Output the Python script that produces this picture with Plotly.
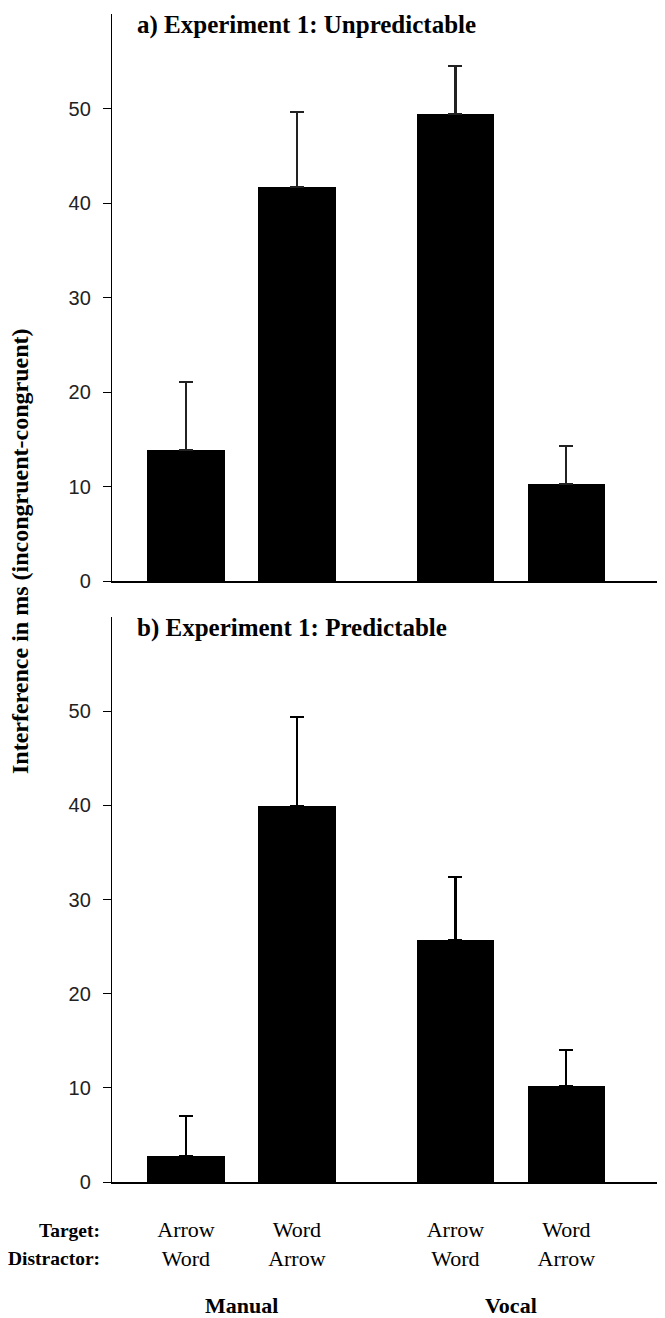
import plotly.graph_objects as go

# ---- data ----
targets = ["Arrow", "Word", "Arrow", "Word"]
distractors = ["Word", "Arrow", "Word", "Arrow"]
groups = ["Manual", "Manual", "Vocal", "Vocal"]
group_names = ["Manual", "Vocal"]

unpred_vals = [13.9, 41.7, 49.4, 10.3]
unpred_err = [7.2, 7.9, 5.1, 4.0]

pred_vals = [2.8, 39.9, 25.7, 10.2]
pred_err = [4.2, 9.5, 6.7, 3.8]

panel_titles = ["a) Experiment 1: Unpredictable", "b) Experiment 1: Predictable"]
y_label = "Interference in ms (incongruent-congruent)"
y_ticks = [0, 10, 20, 30, 40, 50]

# ---- layout helpers ----
GROUP_GAP = 0.43
xpos = [i + GROUP_GAP * group_names.index(g) for i, g in enumerate(groups)]
tick_text = [f"{t}<br>{d}" for t, d in zip(targets, distractors)]

SERIF = "Liberation Serif"
SANS = "Liberation Sans, Arial"

fig = go.Figure()

for vals, errs, ax, ecol in [(unpred_vals, unpred_err, "y", "#222"),
                             (pred_vals, pred_err, "y2", "#000")]:
    fig.add_trace(go.Bar(
        x=xpos, y=vals, yaxis=ax, xaxis="x" if ax == "y" else "x2",
        width=0.70,
        marker=dict(color="black", line=dict(width=0)),
        error_y=dict(type="data", array=errs, symmetric=False,
                     arrayminus=[0] * len(errs), color=ecol,
                     thickness=2.2, width=7),
        showlegend=False,
    ))

# the page body adds an 8px offset; figure sized to fit the window
W, H = 657, 1310
t_m, b_m = 6, 136
plot_h = H - t_m - b_m
dom_b = [0, 565 / plot_h]
dom_a = [1 - 567 / plot_h, 1]

xr = [-0.667, 4.32]
common_y = dict(range=[0, 60], tickvals=y_ticks, showline=True, linecolor="black",
                linewidth=1.3, ticks="outside", ticklen=8, tickwidth=1.3,
                tickcolor="black", showgrid=False, zeroline=False,
                tickfont=dict(family=SANS, size=20, color="#222"),
                ticklabelstandoff=8)
common_x = dict(range=xr, showline=True, linecolor="black", linewidth=1.5,
                showgrid=False, zeroline=False, ticks="")

fig.update_layout(
    width=W, height=H,
    margin=dict(l=104, r=0, t=t_m, b=b_m, autoexpand=False),
    paper_bgcolor="white", plot_bgcolor="white",
    xaxis=dict(**common_x, domain=[0, 1], anchor="y", showticklabels=False),
    yaxis=dict(**common_y, domain=dom_a, anchor="x"),
    xaxis2=dict(**common_x, domain=[0, 1], anchor="y2", tickvals=xpos,
                ticktext=tick_text, ticklabelstandoff=27,
                tickfont=dict(family=SERIF, size=22, color="black")),
    yaxis2=dict(**common_y, domain=dom_b, anchor="x2"),
    bargap=0,
)

annotations = []
for title, dom in zip(panel_titles, [dom_a, dom_b]):
    annotations.append(dict(
        text=f"<b>{title}</b>", xref="paper", yref="paper",
        x=0.042, y=dom[1], xanchor="left", yanchor="middle", yshift=-11,
        showarrow=False, font=dict(family=SERIF, size=25, color="black")))

annotations.append(dict(
    text=f"<b>{y_label}</b>", xref="paper", yref="paper", x=0, y=0.5,
    xshift=-92, yshift=46, textangle=-90, showarrow=False,
    xanchor="center", yanchor="middle",
    font=dict(family=SERIF, size=24, color="black")))

for row, lab in enumerate(["Target:", "Distractor:"]):
    annotations.append(dict(
        text=f"<b>{lab}</b>", xref="paper", yref="paper", x=0, y=0,
        xshift=-10, yshift=-48 - 28 * row, xanchor="right", yanchor="middle",
        showarrow=False, font=dict(family=SERIF, size=19.5, color="black")))

for g in group_names:
    gx = [p for p, gg in zip(xpos, groups) if gg == g]
    annotations.append(dict(
        text=f"<b>{g}</b>", xref="x2", yref="paper", x=sum(gx) / len(gx), y=0,
        yshift=-123, xanchor="center", yanchor="middle", showarrow=False,
        font=dict(family=SERIF, size=22, color="black")))

fig.update_layout(annotations=annotations)
fig.write_html("out.html")
